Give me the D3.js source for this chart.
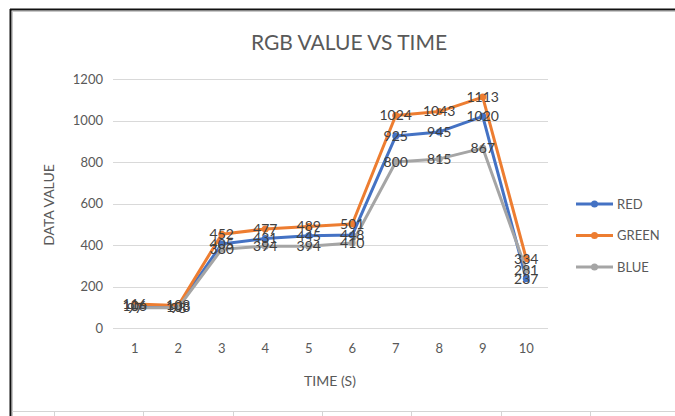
<!doctype html>
<html>
<head>
<meta charset="utf-8">
<script src="https://d3js.org/d3.v7.min.js"></script>
<style>
  body { margin: 0; background: #fff; }
  text { font-family: Lato, "Noto Sans", sans-serif; }
</style>
</head>
<body>
<svg id="svg1" width="675" height="416"></svg>
<script>
// data
let times = [1, 2, 3, 4, 5, 6, 7, 8, 9, 10];
let red   = [106, 103, 405, 431, 445, 448, 925, 945, 1020, 237];
let green = [116, 108, 452, 477, 489, 501, 1024, 1043, 1113, 334];
let blue  = [97, 98, 380, 394, 394, 410, 800, 815, 867, 281];
let seriesNames = ["RED", "GREEN", "BLUE"];
let seriesColors = ["#4472C4", "#ED7D31", "#A5A5A5"];
let yTicks = [0, 200, 400, 600, 800, 1000, 1200];

let svg = d3.select("#svg1");
let margin = { top: 79, left: 113, right: 127, bottom: 88 };
let width = 675, height = 416;

// sheet frame
svg.append("rect").attr("x", 0).attr("y", 0).attr("width", width).attr("height", height).attr("fill", "#fff");
svg.append("line").attr("x1", 10.5).attr("x2", 10.5).attr("y1", 9).attr("y2", 416).attr("stroke", "#111").attr("stroke-width", 2);
svg.append("line").attr("x1", 10).attr("x2", 675).attr("y1", 9.5).attr("y2", 9.5).attr("stroke", "#111").attr("stroke-width", 2);
svg.append("line").attr("x1", 12.5).attr("x2", 12.5).attr("y1", 11).attr("y2", 416).attr("stroke", "#c8c8c8");
svg.append("line").attr("x1", 12).attr("x2", 675).attr("y1", 11.5).attr("y2", 11.5).attr("stroke", "#c8c8c8");
svg.append("line").attr("x1", 12).attr("x2", 675).attr("y1", 411.5).attr("y2", 411.5).attr("stroke", "#d4d4d4");
[54, 143, 233, 322, 411, 501, 590].forEach(x => {
  svg.append("line").attr("x1", x + 0.5).attr("x2", x + 0.5).attr("y1", 412).attr("y2", 416).attr("stroke", "#d4d4d4");
});

let xScale = d3.scaleBand().domain(times).range([margin.left, width - margin.right]);
let yScale = d3.scaleLinear().domain([0, 1200]).range([height - margin.bottom, margin.top]);
let cx = d => xScale(d) + xScale.bandwidth() / 2;

// gridlines
svg.append("g").selectAll("line").data(yTicks).join("line")
  .attr("x1", margin.left).attr("x2", width - margin.right)
  .attr("y1", d => Math.round(yScale(d)) + 0.5).attr("y2", d => Math.round(yScale(d)) + 0.5)
  .attr("stroke", "#d9d9d9");

// axes
let yAxis = svg.append("g").attr("transform", `translate(${margin.left - 10},0)`)
  .call(d3.axisLeft(yScale).tickValues(yTicks).tickFormat(d3.format("d")).tickSize(0).tickPadding(0));
yAxis.select(".domain").remove();
yAxis.selectAll("text").attr("font-size", 13).attr("fill", "#595959").attr("font-family", "Lato");

let xAxis = svg.append("g").attr("transform", `translate(0,${height - margin.bottom + 16})`)
  .call(d3.axisBottom(xScale).tickSize(0).tickPadding(0));
xAxis.select(".domain").remove();
xAxis.selectAll("text").attr("font-size", 13).attr("fill", "#595959").attr("font-family", "Lato");

// titles
svg.append("text").attr("x", 349).attr("y", 50).attr("text-anchor", "middle")
  .attr("font-size", 21).attr("fill", "#595959").text("RGB VALUE VS TIME");
svg.append("text").attr("transform", "translate(54,205) rotate(-90)").attr("text-anchor", "middle")
  .attr("font-size", 14).attr("fill", "#595959").text("DATA VALUE");
svg.append("text").attr("x", 330).attr("y", 386).attr("text-anchor", "middle")
  .attr("font-size", 14).attr("fill", "#595959").text("TIME (S)");

let series = [red, green, blue].map((vals, i) => ({ name: seriesNames[i], color: seriesColors[i], vals: vals }));
let line = d3.line().x((d, i) => cx(times[i])).y(d => yScale(d));

let lines = svg.append("g");
series.forEach(s => {
  lines.append("path").attr("d", line(s.vals)).attr("fill", "none")
    .attr("stroke", s.color).attr("stroke-width", 3).attr("stroke-linejoin", "round").attr("stroke-linecap", "round");
  lines.selectAll(null).data(s.vals).join("circle")
    .attr("cx", (d, i) => cx(times[i])).attr("cy", d => yScale(d)).attr("r", 3.5).attr("fill", s.color);
});

// data labels centered on points
let labels = svg.append("g");
series.forEach(s => {
  labels.selectAll(null).data(s.vals).join("text")
    .attr("x", (d, i) => cx(times[i])).attr("y", d => yScale(d)).attr("dy", "0.35em")
    .attr("text-anchor", "middle").attr("font-size", 14).attr("fill", "#404040")
    .text(d => d);
});

// legend
let legend = svg.append("g");
series.forEach((s, i) => {
  let y = 204 + i * 31.5;
  legend.append("line").attr("x1", 576).attr("x2", 613).attr("y1", y).attr("y2", y)
    .attr("stroke", s.color).attr("stroke-width", 3);
  legend.append("circle").attr("cx", 594.5).attr("cy", y).attr("r", 3.5).attr("fill", s.color);
  legend.append("text").attr("x", 617).attr("y", y).attr("dy", "0.35em")
    .attr("font-size", 13).attr("fill", "#595959").text(s.name);
});
</script>
</body>
</html>
